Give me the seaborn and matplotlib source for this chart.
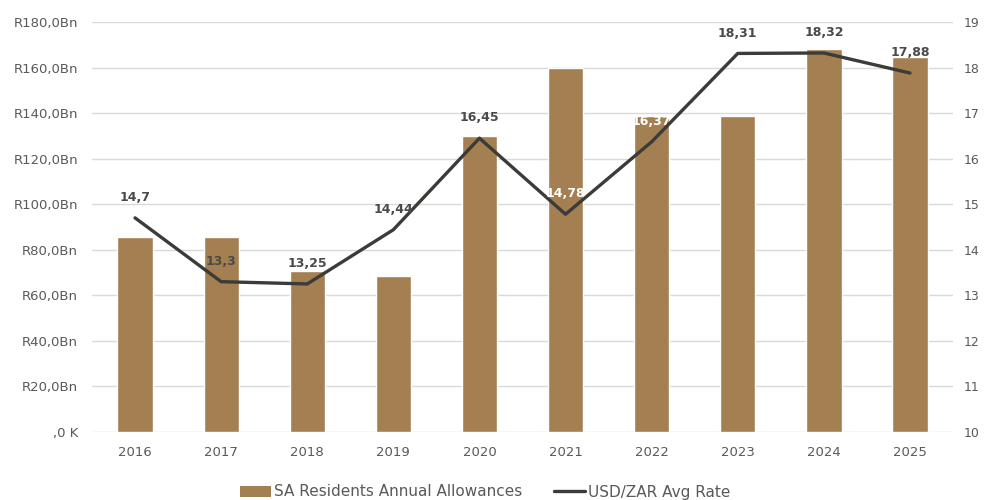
import numpy as np
import pandas as pd
import matplotlib
matplotlib.use("Agg")
import matplotlib.pyplot as plt
from matplotlib.ticker import FuncFormatter, MultipleLocator
from matplotlib.patches import Patch
from matplotlib.lines import Line2D
import seaborn as sns

years = ["2016", "2017", "2018", "2019", "2020", "2021", "2022", "2023", "2024", "2025"]
allowances_bn = [85.6, 85.6, 70.7, 68.3, 130.0, 160.0, 138.8, 138.8, 168.0, 164.6]
usd_zar = [14.7, 13.3, 13.25, 14.44, 16.45, 14.78, 16.37, 18.31, 18.32, 17.88]
rate_labels = ["14,7", "13,3", "13,25", "14,44", "16,45", "14,78", "16,37", "18,31", "18,32", "17,88"]
white_label_years = ["2021", "2022"]

bar_color = "#A47F52"
line_color = "#3B3B38"
text_gray = "#595959"
grid_gray = "#D9D9D9"

sns.set_theme(style="white")
plt.rcParams["font.family"] = ["DejaVu Sans"]

df = pd.DataFrame({"year": years, "allowance": allowances_bn, "rate": usd_zar})

fig = plt.figure(figsize=(9.84, 5.0), dpi=100)
ax = fig.add_axes([0.0935, 0.136, 0.875, 0.82])

sns.barplot(data=df, x="year", y="allowance", color=bar_color, saturation=1,
            width=0.41, ax=ax, zorder=2)
ax.set_ylim(0, 180)
ax.yaxis.set_major_locator(MultipleLocator(20))


def rand_fmt(v, pos):
    if abs(v) < 1e-9:
        return ",0 K"
    return "R" + f"{v:.1f}".replace(".", ",") + "Bn"


ax.yaxis.set_major_formatter(FuncFormatter(rand_fmt))
ax.grid(axis="y", color=grid_gray, linewidth=1.0, zorder=0)
ax.set_axisbelow(True)
ax.set_xlabel("")
ax.set_ylabel("")
ax.set_xlim(-0.5, len(years) - 0.5)
for s in ax.spines.values():
    s.set_visible(False)
ax.tick_params(axis="both", length=0, colors=text_gray, labelsize=9.5)
ax.tick_params(axis="y", pad=10)
ax.tick_params(axis="x", pad=10)

ax2 = ax.twinx()
xpos = np.arange(len(years))
sns.lineplot(x=xpos, y=usd_zar, color=line_color, linewidth=2.4, ax=ax2, zorder=3)
ax2.set_ylim(10, 19)
ax2.yaxis.set_major_locator(MultipleLocator(1))
ax2.set_xlim(-0.5, len(years) - 0.5)
for s in ax2.spines.values():
    s.set_visible(False)
ax2.tick_params(axis="y", length=0, colors=text_gray, labelsize=9, pad=8)
ax2.grid(False)

for i, (yr, val, lab) in enumerate(zip(years, usd_zar, rate_labels)):
    c = "white" if yr in white_label_years else "#4A4A4A"
    ax2.annotate(lab, (i, val), xytext=(0, 10), textcoords="offset points",
                 ha="center", va="bottom", fontsize=9, fontweight="bold", color=c, zorder=5)

handles = [Patch(facecolor=bar_color, edgecolor="none"),
           Line2D([0], [0], color=line_color, linewidth=2.4)]
fig.legend(handles, ["SA Residents Annual Allowances", "USD/ZAR Avg Rate"],
           loc="center", bbox_to_anchor=(0.493, 0.016), ncol=2, frameon=False,
           fontsize=11, labelcolor=text_gray, handlelength=2.0, handletextpad=0.2,
           columnspacing=2.1)

fig.savefig("out.png", dpi=100)
